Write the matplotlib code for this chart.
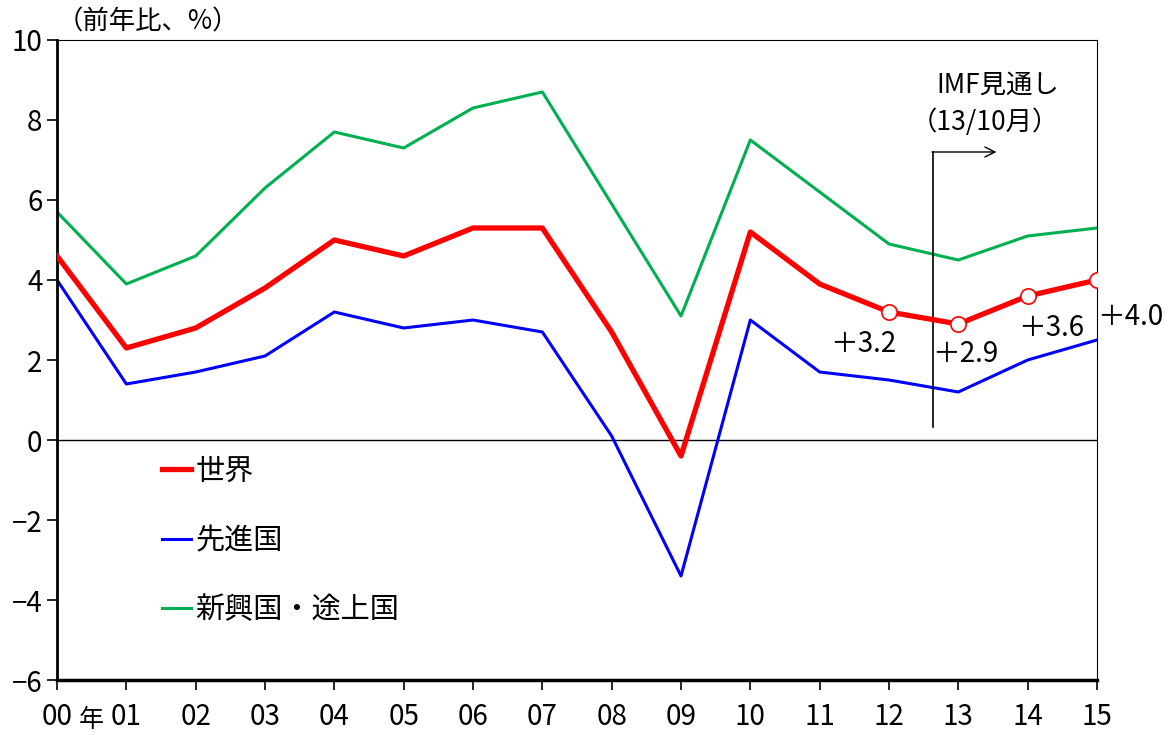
import numpy as np
import matplotlib
matplotlib.use("Agg")
import matplotlib.pyplot as plt

plt.rcParams['font.family'] = ['Noto Sans CJK JP', 'DejaVu Sans']

years = ['00', '01', '02', '03', '04', '05', '06', '07',
         '08', '09', '10', '11', '12', '13', '14', '15']
world = [4.6, 2.3, 2.8, 3.8, 5.0, 4.6, 5.3, 5.3,
         2.7, -0.4, 5.2, 3.9, 3.2, 2.9, 3.6, 4.0]
advanced = [4.0, 1.4, 1.7, 2.1, 3.2, 2.8, 3.0, 2.7,
            0.1, -3.4, 3.0, 1.7, 1.5, 1.2, 2.0, 2.5]
emerging = [5.7, 3.9, 4.6, 6.3, 7.7, 7.3, 8.3, 8.7,
            5.9, 3.1, 7.5, 6.2, 4.9, 4.5, 5.1, 5.3]
forecast_start = 12

x = np.arange(len(years))

fig = plt.figure(figsize=(11.71, 7.35), dpi=100)
ax = fig.add_axes([0.0487, 0.0748, 0.8881, 0.8708])

ax.axhline(0, color='black', lw=1.0, zorder=1)
ax.plot(x, emerging, color='#00B050', lw=2.2, label='新興国・途上国', zorder=2)
ax.plot(x, advanced, color='#0000FF', lw=2.2, label='先進国', zorder=2)
ax.plot(x, world, color='#FF0000', lw=3.8, label='世界', zorder=3)
ax.plot(x[forecast_start:], world[forecast_start:], 'o', ms=11, mfc='white',
        mec='#FF0000', mew=1.2, zorder=4)

# forecast value labels
offsets = [(-0.85, -0.8), (-0.38, -0.75), (-0.14, -0.8), (0.0, -0.93)]
for (dx, dy), xi in zip(offsets, x[forecast_start:]):
    ax.text(xi + dx, world[xi] + dy, '＋%.1f' % world[xi], fontsize=20,
            ha='left', va='center')

# IMF forecast marker
ax.plot([12.63, 12.63], [0.33, 7.2], color='black', lw=1.2)
ax.annotate('', xy=(13.55, 7.2), xytext=(12.62, 7.2),
            arrowprops=dict(arrowstyle='->', lw=1.0, color='black',
                            shrinkA=0, shrinkB=0, mutation_scale=18))
ax.text(13.57, 8.88, 'IMF見通し', fontsize=19, ha='center', va='center')
ax.text(13.38, 7.95, '（13/10月）', fontsize=19, ha='center', va='center')

ax.set_xlim(0, 15)
ax.set_ylim(-6, 10)
ax.set_yticks(np.arange(-6, 11, 2))
ax.set_yticklabels(['−6', '−4', '−2', '0', '2', '4', '6', '8', '10'])
ax.set_xticks(x)
ax.set_xticklabels(years)
ax.tick_params(axis='both', labelsize=20, direction='out', length=7, width=1.2)
ax.tick_params(axis='x', pad=9)
ax.text(0.5, -7.0, '年', fontsize=18, ha='center', va='center')

for side in ['top', 'right']:
    ax.spines[side].set_linewidth(0.8)
ax.spines['left'].set_linewidth(2.0)
ax.spines['bottom'].set_linewidth(2.5)

ax.text(0.0, 10.45, '（前年比、%）', fontsize=19, ha='left', va='center')

handles, labels = ax.get_legend_handles_labels()
order = [2, 1, 0]
ax.legend([handles[i] for i in order], [labels[i] for i in order],
          loc='upper left', bbox_to_anchor=(0.087, 0.372), frameon=False,
          borderpad=0, fontsize=21, handlelength=1.0, handletextpad=0.15,
          labelspacing=1.35)

fig.savefig('out.png', dpi=100)
